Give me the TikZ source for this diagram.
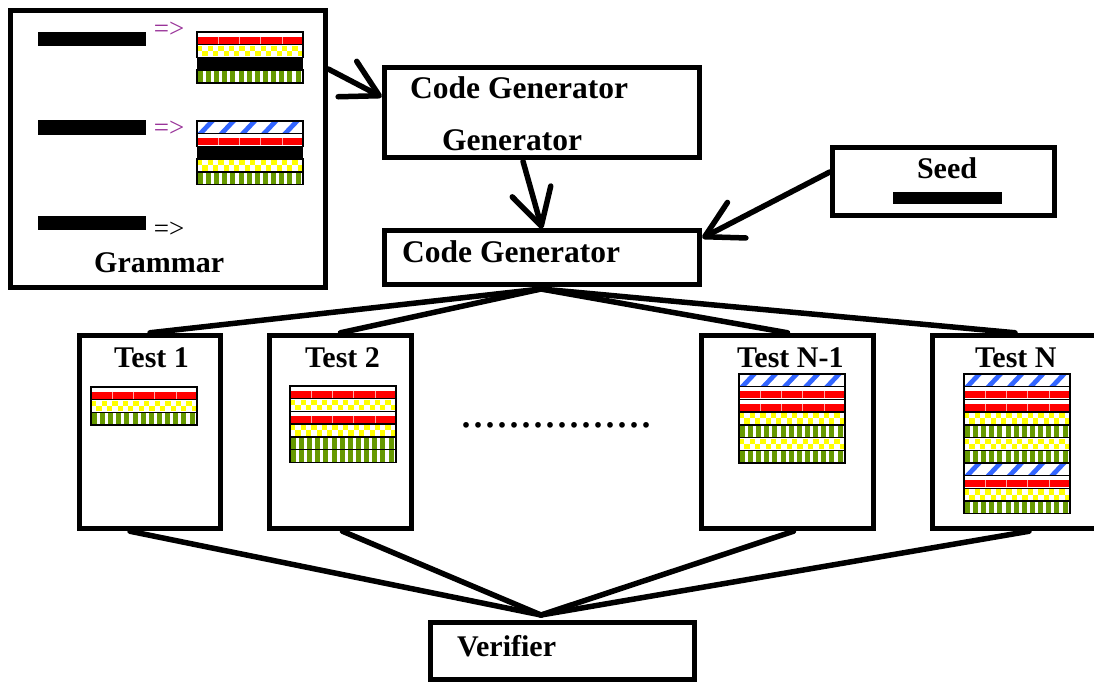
\documentclass[tikz,border=0pt]{standalone}
\usepackage{fontspec}
\setmainfont{Liberation Serif}
\usetikzlibrary{arrows.meta,calc}
\definecolor{rowred}{RGB}{255,0,0}
\definecolor{rowyellow}{RGB}{255,255,0}
\definecolor{rowgreen}{RGB}{102,153,0}
\definecolor{rowblue}{RGB}{51,102,255}
\definecolor{arrpurple}{RGB}{153,51,153}
\newcommand\myrowR[2]{%
 \begin{scope}[shift={(#1,#2)}]
 \fill[white] (0,0) rectangle (106,12.7);
 \fill[rowred] (0,4.5) rectangle (106,11.7);
 \foreach \c in {1,...,4} \draw[white!65!rowred, line width=0.6pt] ({\c*21.2},4.5) -- ({\c*21.2},11.7);
 \draw[line width=1.4pt] (0,0) rectangle (106,12.7);
 \end{scope}}
\newcommand\myrowY[2]{%
 \begin{scope}[shift={(#1,#2)}]
 \fill[white] (0,0) rectangle (106,12.7);
 \foreach \c in {0,2,...,18} \fill[rowyellow] ({\c*5.3},1) rectangle ++(5.3,5.35);
 \foreach \c in {1,3,...,19} \fill[rowyellow] ({\c*5.3},6.35) rectangle ++(5.3,5.35);
 \draw[line width=1.4pt] (0,0) rectangle (106,12.7);
 \end{scope}}
\newcommand\myrowG[2]{%
 \begin{scope}[shift={(#1,#2)}]
 \fill[white] (0,0) rectangle (106,12.7);
 \foreach \c in {0,...,12} \fill[rowgreen] ({\c*8.15+0.8},0) rectangle ++(5,12.7);
 \draw[line width=1.4pt] (0,0) rectangle (106,12.7);
 \end{scope}}
\newcommand\myrowB[2]{%
 \begin{scope}[shift={(#1,#2)}]
 \fill[white] (0,0) rectangle (106,12.7);
 \begin{scope}
 \clip (0,0) rectangle (106,12.7);
 \foreach \c in {-1,...,5} \fill[rowblue] ({\c*21.2},12.7) -- ++(6.5,0) -- ++(12,-12.7) -- ++(-6.5,0) -- cycle;
 \end{scope}
 \draw[line width=1.4pt] (0,0) rectangle (106,12.7);
 \end{scope}}
\newcommand\myrowK[2]{%
 \begin{scope}[shift={(#1,#2)}]
 \fill[black] (0,0) rectangle (106,12.7);
 \end{scope}}
\newcommand\stripeblock[3]{%
 \foreach \rt [count=\i from 0] in {#3} {%
   \pgfmathsetmacro\yy{#2+\i*12.7}%
   \csname myrow\rt\endcsname{#1}{\yy}%
 }}
\begin{document}
\begin{tikzpicture}[x=1pt,y=-1pt,
  box/.style={draw, line width=5.5pt, inner sep=0pt},
  lbl/.style={font=\fontsize{30}{36}\selectfont\bfseries, inner sep=0pt, anchor=base west},
  biglbl/.style={lbl, font=\fontsize{31.5}{36}\selectfont\bfseries},
  yields/.style={font=\fontsize{27}{30}\selectfont, inner sep=0pt, anchor=center},
  conn/.style={line width=5.5pt, line cap=round},
  arr/.style={conn, -{Straight Barb[length=36pt,width=40pt,round]}}]
\clip (0,0) rectangle (1094,683);
\fill[white] (0,0) rectangle (1094,683);

% boxes
\node[box, minimum width=315pt, minimum height=277pt] (grammar) at (168,149) {};
\node[box, minimum width=315pt, minimum height=90pt] (cgg) at (542,112.5) {};
\node[box, minimum width=315pt, minimum height=54pt] (cg) at (542,257.5) {};
\node[box, minimum width=222pt, minimum height=68pt] (seed) at (943.5,181.5) {};
\node[box, minimum width=141pt, minimum height=193pt] (test1) at (150,432) {};
\node[box, minimum width=142pt, minimum height=193pt] (test2) at (340.5,432) {};
\node[box, minimum width=172pt, minimum height=193pt] (testN1) at (787.5,432) {};
\node[box, minimum width=165pt, minimum height=193pt] (testN) at (1015,432) {};
\node[box, minimum width=264pt, minimum height=57pt] (verifier) at (562.5,651) {};

% labels
\node[lbl] (tgram) at (94,272) {Grammar};
\node[biglbl] (tcgg1) at (410,98) {Code Generator};
\node[biglbl] (tcgg2) at (442,150) {Generator};
\node[biglbl] (tcg) at (402,262) {Code Generator};
\node[lbl, anchor=base] (tseed) at (947,178) {Seed};
\node[lbl] (tt1) at (114,367) {Test 1};
\node[lbl] (tt2) at (305,367) {Test 2};
\node[lbl] (ttn1) at (737,367) {Test N-1};
\node[lbl] (ttn) at (975,367) {Test N};
\node[lbl] (tver) at (457,656) {Verifier};
\node[font=\fontsize{48}{50}\selectfont, inner sep=0pt] (dots) at (556,425) {................};

% grammar content
\fill (38,32) rectangle (146,46);
\fill (38,120) rectangle (146,135);
\fill (38,216) rectangle (146,230);
\node[yields, text=arrpurple] (y1) at (169,30) {=>};
\node[yields, text=arrpurple] (y2) at (169,129) {=>};
\node[yields] (y3) at (169,230) {=>};
\stripeblock{197}{32}{R,Y,K,G}
\stripeblock{197}{121}{B,R,K,Y,G}

% seed bar
\fill (893,192) rectangle (1002,204);

% test contents
\stripeblock{91}{387}{R,Y,G}
\stripeblock{290}{386}{R,Y,R,Y,G,G}
\stripeblock{739}{374}{B,R,R,Y,G,Y,G}
\stripeblock{964}{374}{B,R,R,Y,G,Y,G,B,R,Y,G}

% connectors
\draw[arr] ([yshift=80pt]grammar.east) -- ([yshift=15.5pt]cgg.west);
\draw[arr] ([xshift=-19pt,yshift=-1pt]cgg.south) -- ([yshift=-1pt]cg.north);
\draw[arr] ([yshift=9.5pt]seed.west) -- ([yshift=19.5pt]cg.east);

\coordinate (fan) at (541,289);
\coordinate (vapex) at (541,615);
\draw[conn] (fan) -- (test1.north);
\draw[conn] (fan) -- (test2.north);
\draw[conn] (fan) -- (testN1.north);
\draw[conn] (fan) -- (testN.north);
\draw[conn] ([xshift=-20pt]test1.south) -- (vapex);
\draw[conn] ([xshift=2pt]test2.south) -- (vapex);
\draw[conn] ([xshift=6pt]testN1.south) -- (vapex);
\draw[conn] ([xshift=14pt]testN.south) -- (vapex);
\end{tikzpicture}
\end{document}
